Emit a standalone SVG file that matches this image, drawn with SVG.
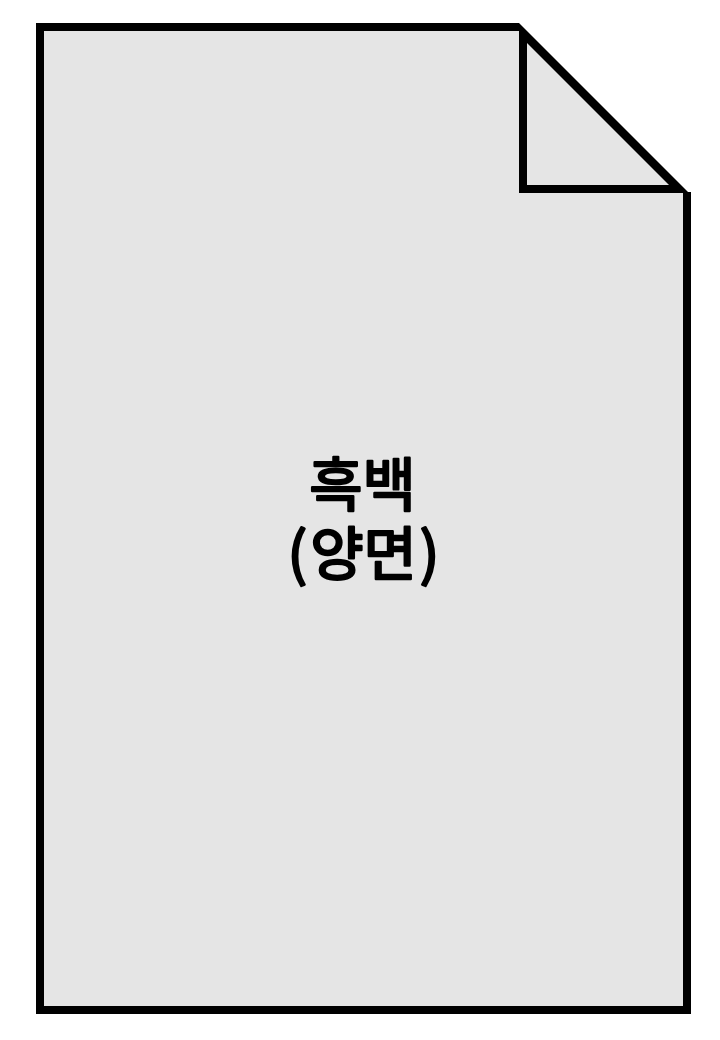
<svg xmlns="http://www.w3.org/2000/svg" width="720" height="1040" viewBox="0 0 720 1040">
<style>
.o{fill:#000}
.f{fill:#e5e5e5}
.t{font-family:"Noto Sans CJK KR","Noto Sans",sans-serif;font-size:58px;font-weight:400;text-anchor:middle;fill:#000;stroke:#000;stroke-width:2.4;stroke-linejoin:round}
</style>
<rect width="720" height="1040" fill="#fff"/>
<g id="page">
<path class="o" d="M36 23H519L688 192H691V1014H36Z"/>
<path class="f" d="M44 31H519V193H683V1006H44Z"/>
<path class="f" d="M527 43L669 185H527Z"/>
<text class="t" x="362.5" y="506">흑백</text>
<text class="t" x="363.5" y="575">(<tspan dx="3">양면</tspan><tspan dx="3">)</tspan></text>
</g>
</svg>
